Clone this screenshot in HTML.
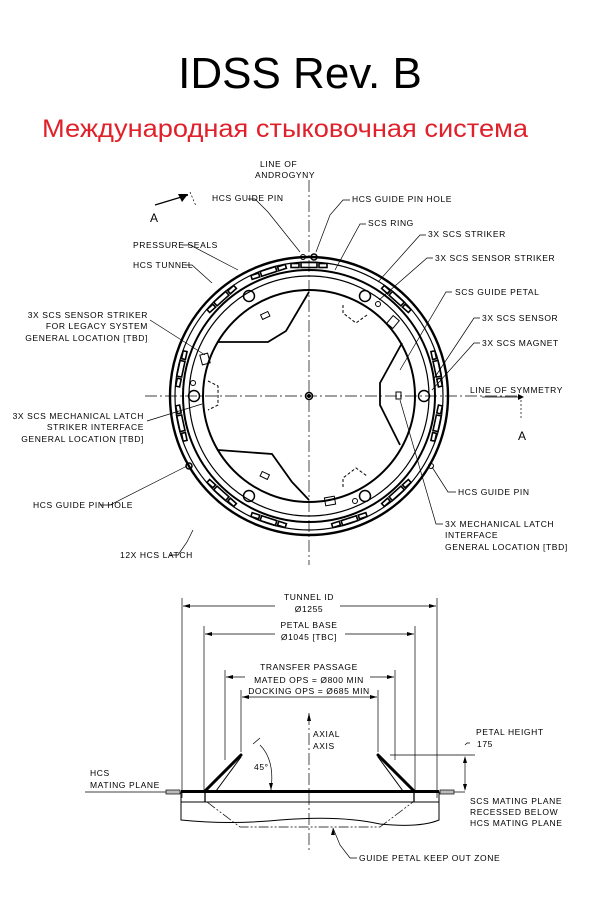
<!DOCTYPE html>
<html><head><meta charset="utf-8"><style>
body{margin:0;background:#fff;width:600px;height:903px;overflow:hidden}
svg{display:block}
.t{font-family:"Liberation Sans",sans-serif;font-size:8.5px;letter-spacing:0.6px;fill:#000}
</style></head><body>
<svg width="600" height="903" viewBox="0 0 600 903">
<text x="300" y="88" text-anchor="middle" font-family="Liberation Sans,sans-serif" font-size="44" fill="#000">IDSS Rev. B</text>
<text x="42" y="137" textLength="486" lengthAdjust="spacingAndGlyphs" font-family="Liberation Sans,sans-serif" font-size="25" fill="#e0202a">Международная стыковочная система</text>

<g fill="none" stroke="#000">
<line x1="309" y1="180" x2="309" y2="565" stroke-width="0.7" stroke-dasharray="12,3,2,3"/>
<line x1="145" y1="396" x2="520" y2="396" stroke-width="0.7" stroke-dasharray="12,3,2,3"/>
<circle cx="309" cy="396" r="139" stroke-width="2.4"/>
<circle cx="309" cy="396" r="134" stroke-width="1.2"/>
<circle cx="309" cy="396" r="126" stroke-width="2"/>
<circle cx="309" cy="396" r="120" stroke-width="1.2"/>
<circle cx="309" cy="396" r="106" stroke-width="2"/>
<circle cx="309" cy="396" r="3.5" stroke-width="1.5"/>
<circle cx="309" cy="396" r="1.5" fill="#000"/>
<polyline points="309,292 286,331 268,342 218,342" stroke-width="1.8"/>
<polyline points="402,343 380,383 380,405 400,445" stroke-width="1.8"/>
<polyline points="218,450 272,454 292,482 309,500" stroke-width="1.8"/>
<circle cx="249" cy="296" r="5.5" stroke-width="1.5"/>
<circle cx="365" cy="296" r="5.5" stroke-width="1.5"/>
<circle cx="194" cy="396" r="5.5" stroke-width="1.5"/>
<circle cx="424" cy="396" r="5.5" stroke-width="1.5"/>
<circle cx="249" cy="496" r="5.5" stroke-width="1.5"/>
<circle cx="365" cy="496" r="5.5" stroke-width="1.5"/>
<circle cx="303" cy="257" r="2.5"/><circle cx="314" cy="257" r="3" stroke-width="1.5"/>
<circle cx="378" cy="304" r="2.5"/><circle cx="193" cy="383" r="2.5"/>
<circle cx="355" cy="501" r="2.5"/><circle cx="431" cy="466" r="2.5"/>
<circle cx="189" cy="466" r="3" stroke-width="1.5"/>
<rect x="201" y="354" width="8" height="10" transform="rotate(-15 205 359)"/>
<rect x="389" y="317" width="8" height="10" transform="rotate(40 393 322)"/>
<rect x="325" y="497" width="10" height="8" transform="rotate(-10 330 501)"/>
<rect x="261" y="313" width="8" height="5" transform="rotate(-25 265 315)"/>
<rect x="261" y="473" width="8" height="5" transform="rotate(25 265 475)"/>
<rect x="396" y="392" width="5" height="7"/>
<polyline points="343,305 343,313 356,323 367,315" stroke-dasharray="3,2"/>
<polyline points="343,487 343,478 356,468 367,476" stroke-dasharray="3,2"/>
<polyline points="208,381 218,386 218,405 208,410" stroke-dasharray="3,2"/>
</g>
<g fill="none" stroke="#000" stroke-width="1.6">
<g id="l"><rect x="301" y="262.5" width="16" height="5"/><rect x="291" y="263.5" width="8" height="4"/><rect x="319" y="263.5" width="8" height="4"/></g>
<use href="#l" transform="rotate(-42 309 396)"/>
<use href="#l" transform="rotate(42 309 396)"/>
<use href="#l" transform="rotate(-78 309 396)"/>
<use href="#l" transform="rotate(78 309 396)"/>
<use href="#l" transform="rotate(-102 309 396)"/>
<use href="#l" transform="rotate(102 309 396)"/>
<use href="#l" transform="rotate(-138 309 396)"/>
<use href="#l" transform="rotate(138 309 396)"/>
<use href="#l" transform="rotate(-162 309 396)"/>
<use href="#l" transform="rotate(162 309 396)"/>
<use href="#l" transform="rotate(-18 309 396)"/>
</g>
<g fill="none" stroke="#000" stroke-width="0.7">
<polyline points="248,199 255,199 268,212 300,252"/>
<polyline points="350,200 343,200 330,215 316,252"/>
<polyline points="366,224 360,224 335,270"/>
<polyline points="426,235 420,235 378,282"/>
<polyline points="433,258 427,258 379,300"/>
<polyline points="182,245 190,245 238,270"/>
<polyline points="185,265 192,265 212,283"/>
<polyline points="452,292 446,292 400,370"/>
<polyline points="480,318 474,318 433,380"/>
<polyline points="480,343 474,343 432,390"/>
<polyline points="150,320 205,355"/>
<polyline points="147,421 202,404"/>
<polyline points="100,505 110,505 187,466"/>
<polyline points="456,492 448,492 432,467"/>
<polyline points="443,524 436,524 400,400"/>
<polyline points="170,555 178,555 187,542 193,530"/>
<line x1="155" y1="205" x2="188" y2="195" stroke-width="1.3"/>
<polyline points="190,192 196,206" stroke-dasharray="2,2"/>
<line x1="482" y1="397" x2="518" y2="397"/>
</g>
<polygon points="188,194 178,194 182,202" fill="#000"/>
<polygon points="518,394 524,397 518,400" fill="#000"/>
<line x1="521" y1="400" x2="521" y2="420" stroke="#000" stroke-width="0.7" stroke-dasharray="2,2"/>
<g class="t">
<text x="260" y="167">LINE OF</text><text x="255" y="178">ANDROGYNY</text>
<text x="212" y="201">HCS GUIDE PIN</text>
<text x="352" y="202">HCS GUIDE PIN HOLE</text>
<text x="368" y="226">SCS RING</text>
<text x="428" y="237">3X SCS STRIKER</text>
<text x="435" y="261">3X SCS SENSOR STRIKER</text>
<text x="133" y="248">PRESSURE SEALS</text>
<text x="133" y="268">HCS TUNNEL</text>
<text x="455" y="295">SCS GUIDE PETAL</text>
<text x="148" y="318" text-anchor="end">3X SCS SENSOR STRIKER</text>
<text x="148" y="329" text-anchor="end">FOR LEGACY SYSTEM</text>
<text x="148" y="341" text-anchor="end">GENERAL LOCATION [TBD]</text>
<text x="482" y="321">3X SCS SENSOR</text>
<text x="482" y="346">3X SCS MAGNET</text>
<text x="470" y="393">LINE OF SYMMETRY</text>
<text x="144" y="419" text-anchor="end">3X SCS MECHANICAL LATCH</text>
<text x="144" y="430" text-anchor="end">STRIKER INTERFACE</text>
<text x="144" y="442" text-anchor="end">GENERAL LOCATION [TBD]</text>
<text x="33" y="508">HCS GUIDE PIN HOLE</text>
<text x="458" y="495">HCS GUIDE PIN</text>
<text x="445" y="527">3X MECHANICAL LATCH</text>
<text x="445" y="538">INTERFACE</text>
<text x="445" y="550">GENERAL LOCATION [TBD]</text>
<text x="120" y="558">12X HCS LATCH</text>
<text x="150" y="222" style="font-size:12px">A</text>
<text x="518" y="440" style="font-size:12px">A</text>
</g>

<g fill="none" stroke="#000" stroke-width="0.7">
<line x1="182" y1="598" x2="182" y2="798"/><line x1="437" y1="598" x2="437" y2="798"/>
<line x1="204" y1="626" x2="204" y2="792"/><line x1="415" y1="626" x2="415" y2="792"/>
<line x1="225" y1="670" x2="225" y2="760"/><line x1="395" y1="670" x2="395" y2="760"/>
<line x1="241" y1="690" x2="241" y2="752"/><line x1="378" y1="690" x2="378" y2="752"/>
<line x1="183" y1="606" x2="275" y2="606"/><line x1="340" y1="606" x2="436" y2="606"/>
<line x1="205" y1="634" x2="275" y2="634"/><line x1="345" y1="634" x2="414" y2="634"/>
<line x1="226" y1="677" x2="245" y2="677"/><line x1="370" y1="677" x2="394" y2="677"/>
<line x1="242" y1="697" x2="377" y2="697"/>
<line x1="309" y1="713" x2="309" y2="850" stroke-dasharray="12,3,2,3"/>
<line x1="390" y1="755" x2="475" y2="755"/>
<line x1="85" y1="792" x2="180" y2="792"/><line x1="440" y1="792" x2="465" y2="792"/>
<polyline points="465,760 465,788"/><polyline points="465,745 467,743 470,743"/>
<line x1="253" y1="744" x2="260" y2="738"/>
<path d="M260,745 Q275,760 271,790"/>
<rect x="181" y="792" width="258" height="10" stroke-width="1"/>
<line x1="205" y1="792" x2="205" y2="802" stroke-width="1.3"/><line x1="414" y1="792" x2="414" y2="802" stroke-width="1.3"/>
<path d="M181,802 L181,820 Q230,825 280,820 Q340,815 380,824 Q420,828 439,820 L439,802" stroke-width="1"/>
<polyline points="207,802 240,827 380,827 413,802" stroke-dasharray="10,2,2,2,2,2"/>
<polyline points="357,858 350,858 340,845 333,828"/>
</g>
<g fill="#000">
<polygon points="183,606 190,604 190,608"/><polygon points="436,606 429,604 429,608"/>
<polygon points="205,634 212,632 212,636"/><polygon points="414,634 407,632 407,636"/>
<polygon points="226,677 233,675 233,679"/><polygon points="394,677 387,675 387,679"/>
<polygon points="242,697 249,695 249,699"/><polygon points="377,697 370,695 370,699"/>
<polygon points="309,713 307,721 311,721"/>
<polygon points="465,756 463,763 467,763"/><polygon points="465,791 463,784 467,784"/>
<polygon points="271,790 269,783 273,783"/>
<polygon points="333,828 331,835 335,835"/>
<rect x="166" y="790" width="14" height="4" fill="#bbb" stroke="#000" stroke-width="0.7"/>
<rect x="440" y="790" width="14" height="4" fill="#bbb" stroke="#000" stroke-width="0.7"/>
</g>
<rect x="181" y="790" width="258" height="3" fill="#000"/>
<g stroke="#000" stroke-linecap="round">
<line x1="205" y1="791" x2="241" y2="755" stroke-width="3"/>
<line x1="216" y1="791" x2="241" y2="757" stroke-width="1"/>
<line x1="414" y1="791" x2="378" y2="755" stroke-width="3"/>
<line x1="403" y1="791" x2="378" y2="757" stroke-width="1"/>
</g>
<g class="t" text-anchor="middle">
<text x="309" y="600">TUNNEL ID</text><text x="309" y="612">Ø1255</text>
<text x="309" y="628">PETAL BASE</text><text x="309" y="640">Ø1045 [TBC]</text>
<text x="309" y="670">TRANSFER PASSAGE</text><text x="309" y="683">MATED OPS = Ø800 MIN</text>
<text x="309" y="694">DOCKING OPS = Ø685 MIN</text>
</g>
<g class="t">
<text x="313" y="737">AXIAL</text><text x="313" y="749">AXIS</text>
<text x="476" y="735">PETAL HEIGHT</text><text x="477" y="747">175</text>
<text x="254" y="770">45°</text>
<text x="90" y="776">HCS</text><text x="90" y="788">MATING PLANE</text>
<text x="470" y="804">SCS MATING PLANE</text><text x="470" y="815">RECESSED BELOW</text><text x="470" y="826">HCS MATING PLANE</text>
<text x="359" y="861">GUIDE PETAL KEEP OUT ZONE</text>
</g>
</svg>
</body></html>
